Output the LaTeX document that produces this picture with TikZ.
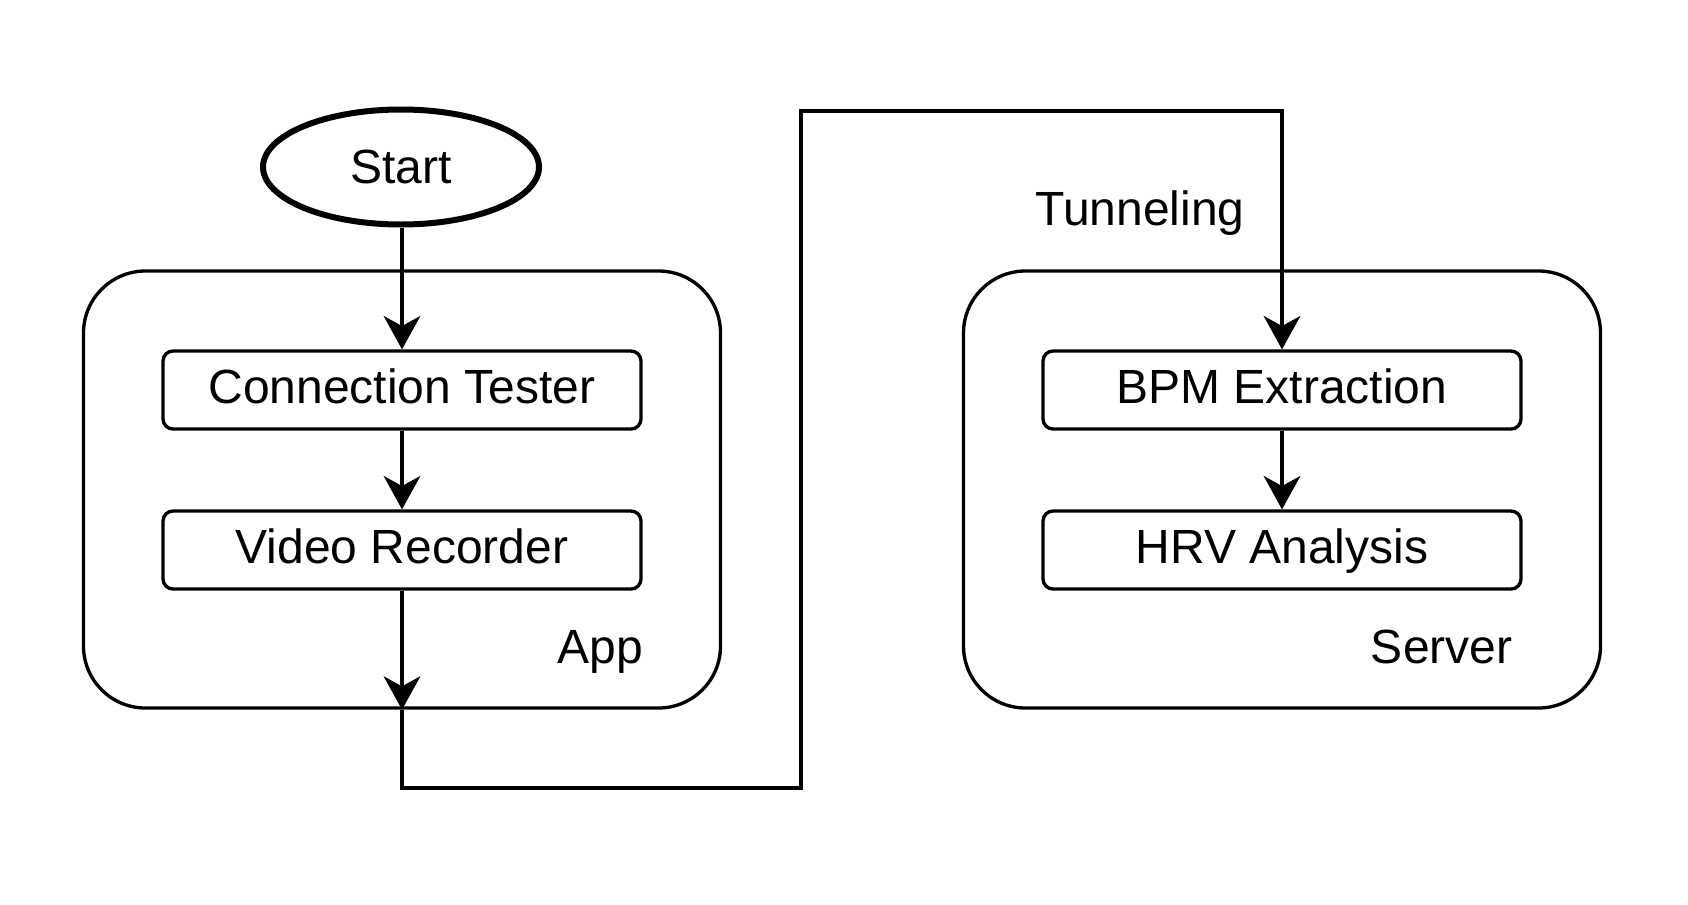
\documentclass[tikz,border=0pt]{standalone}
\usepackage{fontspec}
\setmainfont{Liberation Sans}
\usetikzlibrary{arrows.meta,shapes.geometric}
\tikzset{
  lw/.style={line width=1pt},
  container/.style={draw, lw, rounded corners=18.6pt, minimum width=191.1pt, minimum height=131.1pt, inner sep=0pt},
  procbox/.style={draw, lw, rounded corners=3pt, minimum width=143.4pt, minimum height=23.4pt, inner sep=0pt, text height=10.5pt, text depth=2.7pt},
  startnode/.style={draw, ellipse, line width=1.8pt, minimum width=82.8pt, minimum height=34.5pt, inner sep=0pt},
  lbl/.style={inner sep=0pt},
  arr/.style={lw, -{Stealth[length=10pt, width=11pt, inset=3pt]}},
  conn/.style={lw}
}
\begin{document}
\begin{tikzpicture}[x=0.3pt, y=-0.3pt, font=\fontsize{14.4}{17}\selectfont]
\useasboundingbox (0,0) rectangle (1688,904);
\node[container] (app) at (402,489.5) {};
\node[container] (server) at (1282,489.5) {};
\node[startnode] (start) at (401,167) {Start};
\node[procbox] (ct) at (402,390) {Connection Tester};
\node[procbox] (vr) at (402,550) {Video Recorder};
\node[procbox] (bpm) at (1282,390) {BPM Extraction};
\node[procbox] (hrv) at (1282,550) {HRV Analysis};
\node[lbl, anchor=base east] (applbl) at (644,663) {App};
\node[lbl, anchor=base east] (serverlbl) at (1513,663) {Server};
\node[lbl, anchor=base] (tunlbl) at (1140,225) {Tunneling};
\coordinate (c1) at (402,788);
\coordinate (c2) at (801,788);
\coordinate (c3) at (801,111);
\coordinate (c4) at (1282,111);
\draw[arr] (start.south -| ct.north) -- (ct.north);
\draw[arr] (ct) -- (vr);
\draw[arr] (vr) -- (app.south);
\draw[arr, line join=miter] (app.south) -- (c1) -- (c2) -- (c3) -- (c4) -- (bpm.north);
\draw[arr] (bpm) -- (hrv);
\end{tikzpicture}
\end{document}
